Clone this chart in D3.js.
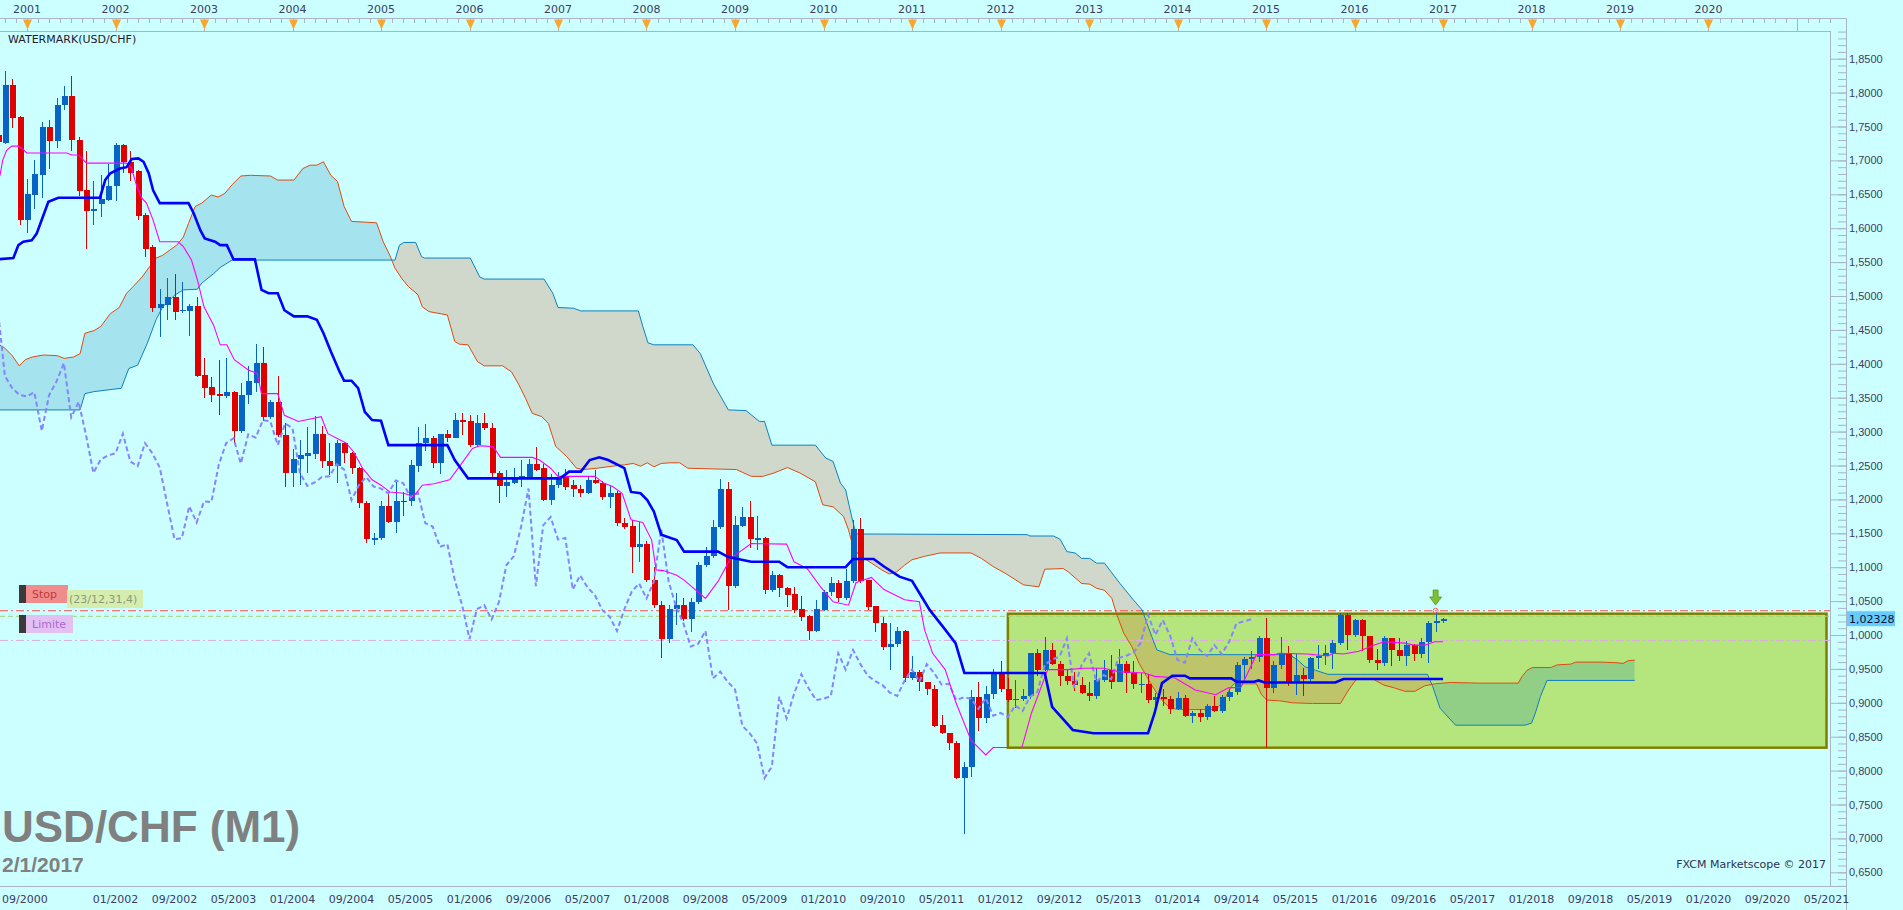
<!DOCTYPE html>
<html>
<head>
<meta charset="utf-8">
<script src="https://cdn.jsdelivr.net/npm/d3@7"></script>
<style>
html, body { margin: 0; padding: 0; background: #ccffff; overflow: hidden; }
svg { display: block; font-family: "DejaVu Sans", Verdana, sans-serif; }
</style>
</head>
<body>
<div id="chart"></div>
<script>
// ---- data: USD/CHF monthly candles, Sep 2000 .. Jan 2017 (month index 0 = Jan 2001)
const firstMonth = -4;
const opens = [
  1.738, 1.726, 1.811, 1.764,
  1.612, 1.649, 1.679, 1.749, 1.728, 1.781, 1.795, 1.730, 1.656, 1.626, 1.636, 1.642,
  1.662, 1.723, 1.698, 1.684, 1.620, 1.573, 1.483, 1.487, 1.498, 1.478, 1.478, 1.485,
  1.383, 1.366, 1.355, 1.352, 1.358, 1.301, 1.354, 1.372, 1.401, 1.321, 1.344, 1.295,
  1.239, 1.259, 1.264, 1.267, 1.297, 1.257, 1.249, 1.283, 1.268, 1.247, 1.194, 1.141,
  1.143, 1.190, 1.166, 1.198, 1.197, 1.249, 1.283, 1.290, 1.253, 1.296, 1.291, 1.317,
  1.316, 1.280, 1.312, 1.305, 1.239, 1.220, 1.224, 1.232, 1.231, 1.252, 1.246, 1.199,
  1.221, 1.233, 1.221, 1.216, 1.209, 1.228, 1.224, 1.203, 1.210, 1.165, 1.161, 1.130,
  1.134, 1.081, 1.044, 0.994, 1.038, 1.044, 1.023, 1.048, 1.103, 1.116, 1.160, 1.216,
  1.072, 1.161, 1.174, 1.141, 1.143, 1.067, 1.088, 1.070, 1.060, 1.038, 1.028, 1.006,
  1.037, 1.063, 1.076, 1.054, 1.079, 1.156, 1.081, 1.043, 1.018, 0.983, 0.987, 1.006,
  0.936, 0.946, 0.931, 0.921, 0.867, 0.855, 0.840, 0.789, 0.806, 0.909, 0.877, 0.913,
  0.942, 0.921, 0.904, 0.906, 0.910, 0.973, 0.949, 0.978, 0.957, 0.940, 0.932, 0.926,
  0.915, 0.910, 0.933, 0.949, 0.931, 0.957, 0.944, 0.927, 0.928, 0.904, 0.908, 0.906,
  0.891, 0.907, 0.881, 0.885, 0.879, 0.896, 0.888, 0.909, 0.916, 0.956, 0.964, 0.968,
  0.995, 0.922, 0.956, 0.973, 0.931, 0.941, 0.935, 0.966, 0.969, 0.974, 0.988, 1.030,
  1.000, 1.022, 0.999, 0.963, 0.959, 0.995, 0.978, 0.969, 0.985, 0.972, 0.990, 1.017,
  1.020
];
const highs = [
  1.745, 1.832, 1.820, 1.766,
  1.673, 1.700, 1.756, 1.760, 1.792, 1.809, 1.825, 1.734, 1.714, 1.670, 1.678, 1.694,
  1.725, 1.724, 1.714, 1.686, 1.622, 1.575, 1.510, 1.526, 1.532, 1.520, 1.488, 1.498,
  1.409, 1.381, 1.406, 1.409, 1.360, 1.371, 1.397, 1.429, 1.425, 1.347, 1.382, 1.312,
  1.275, 1.288, 1.307, 1.323, 1.308, 1.283, 1.288, 1.285, 1.270, 1.248, 1.197, 1.150,
  1.197, 1.211, 1.226, 1.211, 1.258, 1.307, 1.311, 1.293, 1.297, 1.303, 1.328, 1.328,
  1.324, 1.324, 1.327, 1.312, 1.242, 1.243, 1.246, 1.258, 1.260, 1.277, 1.252, 1.238,
  1.240, 1.245, 1.228, 1.221, 1.234, 1.244, 1.227, 1.221, 1.212, 1.172, 1.170, 1.166,
  1.139, 1.100, 1.050, 1.044, 1.062, 1.054, 1.054, 1.108, 1.130, 1.170, 1.230, 1.226,
  1.175, 1.189, 1.197, 1.176, 1.145, 1.095, 1.090, 1.071, 1.071, 1.057, 1.029, 1.052,
  1.066, 1.086, 1.081, 1.097, 1.170, 1.172, 1.081, 1.043, 1.027, 1.017, 1.012, 1.008,
  0.969, 0.949, 0.931, 0.926, 0.882, 0.855, 0.843, 0.812, 0.919, 0.930, 0.925, 0.950,
  0.961, 0.936, 0.934, 0.920, 0.974, 0.980, 0.997, 0.988, 0.962, 0.950, 0.946, 0.938,
  0.930, 0.952, 0.963, 0.970, 0.979, 0.962, 0.962, 0.944, 0.942, 0.915, 0.920, 0.910,
  0.916, 0.911, 0.888, 0.891, 0.898, 0.910, 0.912, 0.920, 0.960, 0.968, 0.976, 0.999,
  1.025, 0.961, 0.997, 0.984, 0.972, 0.951, 0.968, 0.985, 0.985, 0.993, 1.032, 1.032,
  1.024, 1.024, 0.999, 0.979, 0.999, 0.996, 0.995, 0.991, 0.987, 0.996, 1.021, 1.034,
  1.025
];
const lows = [
  1.720, 1.724, 1.748, 1.605,
  1.593, 1.628, 1.645, 1.687, 1.719, 1.775, 1.714, 1.648, 1.570, 1.604, 1.616, 1.640,
  1.640, 1.681, 1.669, 1.612, 1.558, 1.477, 1.439, 1.465, 1.465, 1.475, 1.441, 1.380,
  1.349, 1.343, 1.325, 1.350, 1.283, 1.298, 1.341, 1.359, 1.315, 1.318, 1.292, 1.219,
  1.219, 1.221, 1.239, 1.259, 1.246, 1.236, 1.224, 1.253, 1.238, 1.187, 1.135, 1.133,
  1.140, 1.165, 1.151, 1.175, 1.190, 1.241, 1.272, 1.246, 1.238, 1.284, 1.290, 1.295,
  1.278, 1.278, 1.302, 1.233, 1.194, 1.204, 1.222, 1.218, 1.230, 1.242, 1.198, 1.192,
  1.217, 1.214, 1.204, 1.204, 1.208, 1.222, 1.199, 1.187, 1.161, 1.157, 1.091, 1.107,
  1.078, 1.040, 0.966, 0.988, 1.015, 1.020, 1.004, 1.046, 1.100, 1.113, 1.157, 1.037,
  1.070, 1.160, 1.128, 1.125, 1.061, 1.064, 1.056, 1.041, 1.032, 1.020, 0.993, 1.004,
  1.036, 1.057, 1.049, 1.052, 1.076, 1.076, 1.037, 1.005, 0.978, 0.948, 0.983, 0.930,
  0.934, 0.918, 0.912, 0.864, 0.854, 0.830, 0.787, 0.707, 0.790, 0.858, 0.870, 0.905,
  0.916, 0.901, 0.893, 0.902, 0.905, 0.940, 0.947, 0.956, 0.925, 0.926, 0.918, 0.913,
  0.903, 0.905, 0.930, 0.920, 0.930, 0.915, 0.921, 0.915, 0.900, 0.887, 0.896, 0.883,
  0.889, 0.879, 0.870, 0.871, 0.874, 0.887, 0.885, 0.902, 0.911, 0.935, 0.950, 0.960,
  0.833, 0.915, 0.950, 0.925, 0.912, 0.910, 0.930, 0.950, 0.956, 0.950, 0.985, 0.978,
  0.997, 0.976, 0.958, 0.949, 0.955, 0.955, 0.962, 0.955, 0.962, 0.966, 0.958, 1.004,
  1.018
];
const closes = [
  1.727, 1.811, 1.763, 1.612,
  1.650, 1.680, 1.749, 1.728, 1.782, 1.795, 1.730, 1.655, 1.626, 1.628, 1.643, 1.662,
  1.723, 1.698, 1.682, 1.618, 1.570, 1.483, 1.488, 1.498, 1.477, 1.480, 1.485, 1.382,
  1.364, 1.354, 1.352, 1.358, 1.301, 1.354, 1.374, 1.401, 1.321, 1.344, 1.295, 1.239,
  1.259, 1.265, 1.268, 1.297, 1.256, 1.249, 1.283, 1.268, 1.247, 1.194, 1.141, 1.143,
  1.190, 1.166, 1.197, 1.196, 1.251, 1.283, 1.290, 1.253, 1.296, 1.291, 1.317, 1.315,
  1.280, 1.312, 1.305, 1.239, 1.220, 1.225, 1.233, 1.234, 1.252, 1.244, 1.199, 1.221,
  1.233, 1.219, 1.216, 1.209, 1.228, 1.224, 1.203, 1.210, 1.165, 1.160, 1.130, 1.134,
  1.081, 1.044, 0.994, 1.038, 1.044, 1.023, 1.049, 1.103, 1.116, 1.160, 1.216, 1.072,
  1.162, 1.174, 1.141, 1.143, 1.067, 1.088, 1.070, 1.059, 1.037, 1.027, 1.006, 1.038,
  1.064, 1.076, 1.054, 1.079, 1.156, 1.079, 1.042, 1.017, 0.983, 0.987, 1.006, 0.936,
  0.946, 0.931, 0.920, 0.866, 0.855, 0.840, 0.789, 0.806, 0.909, 0.877, 0.913, 0.942,
  0.921, 0.904, 0.906, 0.910, 0.973, 0.949, 0.978, 0.957, 0.940, 0.932, 0.926, 0.915,
  0.910, 0.933, 0.949, 0.931, 0.957, 0.944, 0.927, 0.928, 0.904, 0.908, 0.906, 0.891,
  0.907, 0.881, 0.885, 0.879, 0.896, 0.888, 0.909, 0.916, 0.956, 0.964, 0.968, 0.995,
  0.922, 0.956, 0.973, 0.931, 0.941, 0.935, 0.966, 0.969, 0.974, 0.988, 1.030, 1.000,
  1.022, 0.999, 0.963, 0.959, 0.995, 0.978, 0.969, 0.985, 0.972, 0.990, 1.017, 1.020,
  1.0233
];

// Chikou span as read (starts Sep 2000, dashed line)
const chikouStart = -4;
const chikou = [
  1.485, 1.382,
  1.364, 1.354, 1.352, 1.358, 1.301, 1.354, 1.374, 1.401, 1.321, 1.344, 1.295, 1.239,
  1.259, 1.265, 1.268, 1.297, 1.256, 1.249, 1.283, 1.268, 1.247, 1.194, 1.141, 1.143,
  1.190, 1.166, 1.197, 1.196, 1.251, 1.283, 1.290, 1.253, 1.296, 1.291, 1.317, 1.315,
  1.280, 1.312, 1.305, 1.239, 1.220, 1.225, 1.233, 1.234, 1.252, 1.244, 1.199, 1.221,
  1.233, 1.219, 1.216, 1.209, 1.228, 1.224, 1.203, 1.210, 1.165, 1.160, 1.130, 1.134,
  1.081, 1.044, 0.994, 1.038, 1.044, 1.023, 1.049, 1.103, 1.116, 1.160, 1.216, 1.072,
  1.162, 1.174, 1.141, 1.143, 1.067, 1.088, 1.070, 1.059, 1.037, 1.027, 1.006, 1.038,
  1.064, 1.076, 1.054, 1.079, 1.156, 1.079, 1.042, 1.017, 0.983, 0.987, 1.006, 0.936,
  0.946, 0.931, 0.920, 0.866, 0.855, 0.840, 0.789, 0.806, 0.909, 0.877, 0.913, 0.942,
  0.921, 0.904, 0.906, 0.910, 0.973, 0.949, 0.978, 0.957, 0.940, 0.932, 0.926, 0.915,
  0.910, 0.933, 0.949, 0.931, 0.957, 0.944, 0.927, 0.928, 0.904, 0.908, 0.906, 0.891,
  0.907, 0.881, 0.885, 0.879, 0.896, 0.888, 0.909, 0.916, 0.956, 0.964, 0.968, 0.995,
  0.922, 0.956, 0.973, 0.931, 0.941, 0.935, 0.966, 0.969, 0.974, 0.988, 1.030, 1.000,
  1.022, 0.999, 0.963, 0.959, 0.995, 0.978, 0.969, 0.985, 0.972, 0.990, 1.017, 1.020,
  1.0233
];

// Tenkan (magenta) [month, price]
const tenkanPts = [
  [-4, 1.672], [-3.66, 1.678], [-3.3, 1.700], [-2.76, 1.715], [-2.08, 1.721], [-1.18, 1.721], [-0.72, 1.718],
  [-0.04, 1.711], [5.38, 1.711], [6.06, 1.708], [6.96, 1.708], [8.09, 1.696], [13.5, 1.696], [14.2, 1.688],
  [14.9, 1.661], [15.6, 1.644], [16.2, 1.637], [17.1, 1.612], [18.0, 1.580], [20.5, 1.580], [21.2, 1.573],
  [22.3, 1.553], [23.1, 1.524], [24.0, 1.484], [25.3, 1.457], [26.2, 1.428], [27.1, 1.428], [28.1, 1.406],
  [30, 1.391], [31.2, 1.386], [31.8, 1.356], [34, 1.356], [34.9, 1.324], [36.8, 1.315], [39.9, 1.322],
  [40.8, 1.297], [42.4, 1.288], [43.3, 1.283], [44.3, 1.270], [45.5, 1.246], [46.8, 1.229], [48, 1.221],
  [49.2, 1.211], [51.1, 1.209], [52.4, 1.204], [53.6, 1.221], [55.2, 1.223], [57.3, 1.229], [58.6, 1.248],
  [60.4, 1.275], [61.4, 1.279], [63.2, 1.278], [64.2, 1.262], [68.5, 1.262], [69.5, 1.258], [71, 1.246],
  [72, 1.234], [77, 1.234], [78.2, 1.224], [79.4, 1.219], [80.7, 1.209], [81.9, 1.170], [83.5, 1.166],
  [84.7, 1.140], [85.3, 1.096], [86.3, 1.095], [88.1, 1.088], [89.1, 1.081], [92, 1.054], [93.7, 1.079],
  [95.4, 1.113], [98.2, 1.135], [103, 1.134], [104, 1.108], [105.8, 1.098], [107.6, 1.071], [109.3, 1.049],
  [111.4, 1.044], [112.4, 1.077], [113.4, 1.081], [114.5, 1.085], [116.2, 1.067], [119, 1.052], [121, 1.049],
  [121.7, 1.008], [122.8, 0.973], [124.5, 0.949], [125.9, 0.902], [128, 0.845], [130, 0.823], [131, 0.834],
  [134.9, 0.834], [136.2, 0.885], [138.4, 0.949], [141.1, 0.949], [143.2, 0.951], [146, 0.951], [148, 0.946],
  [151.5, 0.944], [152.9, 0.939], [155.6, 0.937], [158.4, 0.919], [161.2, 0.912], [162.9, 0.922], [164.6, 0.923],
  [166.7, 0.971], [169.1, 0.971], [169.8, 0.973], [173.6, 0.972], [176.4, 0.969], [177.1, 0.973], [178.5, 0.972],
  [180.6, 0.976], [182.6, 0.985], [184, 0.990], [186.8, 0.988], [188.2, 0.985], [189.5, 0.985], [190.9, 0.990],
  [192, 0.990]
];

// Kijun (thick blue) [month, price]
const kijunPts = [
  [-4, 1.554], [-1.85, 1.556], [-1.17, 1.575], [-0.5, 1.580], [0.63, 1.582], [1.31, 1.592], [1.99, 1.612],
  [2.9, 1.639], [4.25, 1.645], [9.9, 1.645], [10.6, 1.671], [11.3, 1.681], [12.6, 1.688], [13.5, 1.690],
  [14.2, 1.702], [15.1, 1.703], [15.8, 1.698], [16.5, 1.681], [17.1, 1.656], [18.0, 1.637], [21.9, 1.637],
  [22.6, 1.622], [23.5, 1.597], [24.1, 1.585], [25.5, 1.580], [26.2, 1.575], [27.1, 1.575], [28.0, 1.554],
  [30.9, 1.554], [31.8, 1.509], [32.75, 1.504], [34, 1.504], [34.9, 1.479], [36.2, 1.470], [38, 1.470],
  [39.3, 1.465], [40.2, 1.445], [41.2, 1.418], [42.4, 1.388], [43, 1.375], [44, 1.375], [44.9, 1.364],
  [45.8, 1.329], [46.8, 1.317], [48, 1.316], [49, 1.280], [57, 1.280], [58, 1.258], [59.8, 1.231],
  [72.3, 1.231], [73.5, 1.241], [75.1, 1.241], [76.3, 1.258], [77.6, 1.262], [78.8, 1.258], [81, 1.246],
  [81.9, 1.211], [83.2, 1.209], [84.1, 1.199], [85, 1.182], [86, 1.148], [88.1, 1.140], [89.1, 1.123],
  [93.7, 1.123], [95.1, 1.115], [98.2, 1.108], [102, 1.108], [103.1, 1.100], [111, 1.100], [112, 1.112],
  [114.8, 1.112], [116.2, 1.101], [118.3, 1.086], [120, 1.080], [121, 1.062], [122.4, 1.037], [124.5, 1.008],
  [125.9, 0.988], [127.1, 0.944], [138, 0.944], [139, 0.894], [140.4, 0.877], [141.8, 0.860], [144.6, 0.855],
  [152, 0.855], [152.9, 0.885], [153.9, 0.929], [155.3, 0.940], [157, 0.940], [157.7, 0.936], [163.3, 0.936],
  [164, 0.931], [166.4, 0.931], [167, 0.933], [167.8, 0.930], [177.4, 0.930], [178.5, 0.935], [192, 0.935]
];

// Senkou span A (orange-red) [month, price]
const spanAPts = [
  [-4, 1.430], [-3, 1.423], [-2, 1.412], [-1.05, 1.397], [-0.24, 1.406], [0.7, 1.410], [2.25, 1.413],
  [4.1, 1.412], [5.05, 1.408], [6.3, 1.410], [7.2, 1.415], [7.85, 1.445], [9.1, 1.449], [10, 1.455],
  [11.3, 1.474], [12.5, 1.483], [13.5, 1.504], [14.4, 1.514], [15.6, 1.528], [16.6, 1.543], [17.5, 1.556],
  [18.4, 1.560], [19.4, 1.568], [20.3, 1.575], [21.2, 1.587], [21.9, 1.607], [22.8, 1.632], [23.7, 1.637],
  [25, 1.649], [25.9, 1.646], [26.8, 1.651], [27.8, 1.664], [29, 1.677], [30.3, 1.678], [33, 1.677],
  [34, 1.671], [36.2, 1.671], [37.4, 1.688], [38.4, 1.693], [39.3, 1.693], [40.2, 1.698], [41.2, 1.678],
  [42.1, 1.669], [43, 1.632], [44, 1.610], [47.4, 1.608], [48.3, 1.580], [49.2, 1.560], [49.9, 1.541],
  [50.8, 1.526], [51.7, 1.514], [53, 1.502], [53.6, 1.484], [54.5, 1.477], [57, 1.472], [58, 1.433],
  [58.6, 1.429], [59.8, 1.428], [61.1, 1.403], [62, 1.397], [64.5, 1.397], [65.7, 1.388], [66.7, 1.369],
  [67.6, 1.349], [68.5, 1.327], [69.8, 1.322], [70.7, 1.312], [71.7, 1.278], [73.2, 1.263], [74.5, 1.246],
  [75.4, 1.244], [77.3, 1.246], [79.4, 1.249], [81, 1.251], [82.2, 1.253], [83.2, 1.249], [84.1, 1.254],
  [85, 1.248], [86, 1.253], [87.2, 1.254], [88.5, 1.254], [89.6, 1.246], [96.2, 1.244], [98.2, 1.234],
  [99.8, 1.234], [101.3, 1.239], [103.1, 1.247], [104.8, 1.239], [106.9, 1.226], [107.9, 1.192], [109.3, 1.189],
  [110.7, 1.175], [111.4, 1.155], [112, 1.130], [112.8, 1.118], [114.5, 1.106], [115.9, 1.096], [116.9, 1.090],
  [117.9, 1.093], [119, 1.103], [120, 1.111], [121.7, 1.116], [123.8, 1.121], [128, 1.121], [129.4, 1.113],
  [131, 1.101], [132.8, 1.090], [135.1, 1.074], [137.2, 1.071], [138, 1.097], [140.5, 1.098], [141.2, 1.093],
  [143, 1.076], [144.1, 1.075], [145, 1.069], [146.1, 1.066], [147.1, 1.054], [147.7, 1.032], [148.7, 1.003],
  [149.8, 0.983], [150.8, 0.958], [151.8, 0.939], [152.5, 0.926], [153.6, 0.907], [155, 0.892], [156.3, 0.890],
  [161.2, 0.890], [162.2, 0.902], [163.3, 0.924], [164, 0.931], [164.6, 0.928], [166.7, 0.928], [167.4, 0.912],
  [168.1, 0.904], [169.8, 0.903], [171.6, 0.900], [174.3, 0.899], [178.1, 0.899], [179.2, 0.919], [180.2, 0.934],
  [181.2, 0.936], [182.5, 0.935], [184, 0.926], [185.4, 0.922], [186.8, 0.917], [188.2, 0.917], [189.5, 0.925],
  [190.9, 0.928], [193, 0.930], [197, 0.929], [202.2, 0.929], [202.7, 0.9385], [203.4, 0.948], [204.1, 0.952],
  [206.6, 0.952], [207.5, 0.956], [209.3, 0.957], [210, 0.960], [213.6, 0.960], [215.7, 0.959], [216.4, 0.958],
  [217.1, 0.962], [218, 0.963]
];

// Senkou span B (steel blue) [month, price]
const spanBPts = [
  [-4, 1.332], [7.2, 1.332], [7.85, 1.356], [9.1, 1.359], [12.8, 1.364], [13.8, 1.393], [15, 1.398],
  [16.3, 1.430], [17.5, 1.465], [18.4, 1.484], [20, 1.501], [21.2, 1.509], [23.1, 1.510], [23.7, 1.519],
  [25.3, 1.533], [26.2, 1.542], [27.8, 1.553], [49.9, 1.553], [50.5, 1.575], [51.1, 1.579], [52.7, 1.579],
  [53.5, 1.558], [53.9, 1.556], [60.1, 1.556], [61.4, 1.528], [62, 1.525], [70.1, 1.525], [71.3, 1.504],
  [72, 1.483], [74.1, 1.482], [75.1, 1.478], [82.9, 1.478], [83.5, 1.455], [84.2, 1.431], [85, 1.428],
  [90.3, 1.428], [91.3, 1.415], [93.1, 1.370], [95.1, 1.332], [97.5, 1.331], [99.3, 1.315], [100, 1.315],
  [101, 1.280], [106.9, 1.280], [108.3, 1.261], [109.3, 1.256], [110.3, 1.224], [111, 1.214], [111.7, 1.180],
  [112.4, 1.149], [135.6, 1.148], [136, 1.146], [139.2, 1.146], [140.1, 1.141], [141, 1.123], [142.1, 1.121],
  [143, 1.113], [144.1, 1.113], [145, 1.106], [146.1, 1.106], [146.8, 1.096], [148.2, 1.076], [150, 1.052],
  [151.2, 1.037], [152.5, 0.998], [153.2, 0.978], [155, 0.971], [171.2, 0.971], [172.3, 0.963], [173.3, 0.953],
  [174.7, 0.948], [176.4, 0.942], [189.9, 0.942], [190.6, 0.924], [191.6, 0.892], [193.7, 0.867], [203.1, 0.867],
  [204, 0.870], [204.5, 0.884], [205.2, 0.909], [206.1, 0.933], [218, 0.933]
];

// drawn objects
const zoneMonths = [133, 244];
const zonePrices = [0.8338, 1.0314];
const stopLevel = 1.0358;
const entryLevel = 1.0276;
const limitLevel = 0.992;
const lastPrice = 1.02328;
const arrowMonth = 191;

// axes
const priceTicks = [0.65, 0.70, 0.75, 0.80, 0.85, 0.90, 0.95, 1.00, 1.05, 1.10, 1.15, 1.20, 1.25,
  1.30, 1.35, 1.40, 1.45, 1.50, 1.55, 1.60, 1.65, 1.70, 1.75, 1.80, 1.85];
const yearLabels = [2001, 2002, 2003, 2004, 2005, 2006, 2007, 2008, 2009, 2010,
  2011, 2012, 2013, 2014, 2015, 2016, 2017, 2018, 2019, 2020];
const dateLabels = ["09/2000", "01/2002", "09/2002", "05/2003", "01/2004", "09/2004", "05/2005",
  "01/2006", "09/2006", "05/2007", "01/2008", "09/2008", "05/2009", "01/2010", "09/2010", "05/2011",
  "01/2012", "09/2012", "05/2013", "01/2014", "09/2014", "05/2015", "01/2016", "09/2016", "05/2017",
  "01/2018", "09/2018", "05/2019", "01/2020", "09/2020", "05/2021"];

// ---- layout
const W = 1903, H = 910;
const plotRight = 1830, plotTop = 31, plotBottom = 886, axisX = 1846;
const boldFont = '"Liberation Sans", Arial, sans-serif';

const x = d3.scaleLinear().domain([0, 240]).range([27, 1797]);
const y = d3.scaleLinear().domain([0.65, 1.85]).range([872.3, 58.7]);

const svg = d3.select("#chart").append("svg").attr("width", W).attr("height", H);
svg.append("rect").attr("width", W).attr("height", H).attr("fill", "#ccffff");

const defs = svg.append("defs");
defs.append("clipPath").attr("id", "plotClip")
  .append("rect").attr("x", 0).attr("y", plotTop).attr("width", plotRight).attr("height", plotBottom - plotTop);
defs.append("clipPath").attr("id", "aboveB")
  .append("path").attr("d", d3.area().x(d => x(d[0])).y0(0).y1(d => y(d[1]))(spanBPts));
defs.append("clipPath").attr("id", "belowB")
  .append("path").attr("d", d3.area().x(d => x(d[0])).y0(d => y(d[1])).y1(H)(spanBPts));

const line = d3.line().x(d => x(d[0])).y(d => y(d[1]));
const plot = svg.append("g").attr("clip-path", "url(#plotClip)");

// zone fill
const zx0 = x(zoneMonths[0]), zx1 = x(zoneMonths[1]);
const zy0 = y(zonePrices[1]), zy1 = y(zonePrices[0]);
plot.append("rect")
  .attr("x", zx0).attr("y", zy0).attr("width", zx1 - zx0).attr("height", zy1 - zy0)
  .attr("fill", "#b5e57d");

// kumo
const kumo = line(spanAPts) + line(spanBPts.slice().reverse()).replace(/^M/, "L") + "Z";
plot.append("path").attr("d", kumo).attr("fill", "rgba(10,120,170,0.2)").attr("clip-path", "url(#aboveB)");
plot.append("path").attr("d", kumo).attr("fill", "rgba(220,99,51,0.25)").attr("clip-path", "url(#belowB)");

plot.append("rect")
  .attr("x", zx0).attr("y", zy0).attr("width", zx1 - zx0).attr("height", zy1 - zy0)
  .attr("fill", "none").attr("stroke", "#808000").attr("stroke-width", 2.5);

// order levels
plot.append("line").attr("x1", 0).attr("x2", plotRight).attr("y1", y(stopLevel)).attr("y2", y(stopLevel))
  .attr("stroke", "#ff5050").attr("stroke-width", 1).attr("stroke-dasharray", "8,3,2,3");
plot.append("line").attr("x1", 0).attr("x2", plotRight).attr("y1", y(entryLevel)).attr("y2", y(entryLevel))
  .attr("stroke", "#a8d070").attr("stroke-width", 1).attr("stroke-dasharray", "5,3");
plot.append("line").attr("x1", 0).attr("x2", plotRight).attr("y1", y(limitLevel)).attr("y2", y(limitLevel))
  .attr("stroke", "#e0a8e8").attr("stroke-width", 1).attr("stroke-dasharray", "8,3,2,3");

// spans
plot.append("path").attr("d", line(spanAPts)).attr("fill", "none").attr("stroke", "#e04a10").attr("stroke-width", 1);
plot.append("path").attr("d", line(spanBPts)).attr("fill", "none").attr("stroke", "#1080c0").attr("stroke-width", 1);

// candles
const candles = opens.map((o, i) => ({ m: firstMonth + i, o, h: highs[i], l: lows[i], c: closes[i] }));
const cg = plot.append("g").attr("shape-rendering", "crispEdges");
cg.selectAll("line").data(candles).join("line")
  .attr("x1", d => Math.round(x(d.m)) + 0.5).attr("x2", d => Math.round(x(d.m)) + 0.5)
  .attr("y1", d => y(d.h)).attr("y2", d => y(d.l))
  .attr("stroke", d => d.c >= d.o ? "#0764c4" : "#e00000").attr("stroke-width", 1);
cg.selectAll("rect").data(candles).join("rect")
  .attr("x", d => Math.round(x(d.m)) - 2)
  .attr("width", 6)
  .attr("y", d => y(Math.max(d.o, d.c)))
  .attr("height", d => Math.max(1.5, Math.abs(y(d.o) - y(d.c))))
  .attr("fill", d => d.c >= d.o ? "#0764c4" : "#e00000");

// chikou, tenkan, kijun
const chikouPts = chikou.map((v, i) => [chikouStart + i, v]);
plot.append("path").attr("d", line(chikouPts)).attr("fill", "none")
  .attr("stroke", "#8585ff").attr("stroke-width", 2).attr("stroke-dasharray", "5,3");
plot.append("path").attr("d", line(tenkanPts)).attr("fill", "none").attr("stroke", "#ff00ff").attr("stroke-width", 1.1);
plot.append("path").attr("d", line(kijunPts)).attr("fill", "none").attr("stroke", "#0000ff").attr("stroke-width", 2.6);

// arrow + stop marker on last bars
const ax = x(arrowMonth);
plot.append("circle").attr("cx", ax).attr("cy", y(stopLevel)).attr("r", 2.5)
  .attr("fill", "none").attr("stroke", "#ff6060").attr("stroke-width", 1);
plot.append("path")
  .attr("d", `M${ax - 2.5},590 L${ax + 2.5},590 L${ax + 2.5},597 L${ax + 6},597 L${ax},605 L${ax - 6},597 L${ax - 2.5},597 Z`)
  .attr("fill", "#80c030").attr("stroke", "#4f8f18").attr("stroke-width", 0.7);

// ---- frame / rulers
const frameColor = "#aab4c6";
svg.append("line").attr("x1", 0).attr("x2", axisX).attr("y1", 18.5).attr("y2", 18.5).attr("stroke", frameColor);
svg.append("line").attr("x1", 0).attr("x2", plotRight).attr("y1", plotTop + 0.5).attr("y2", plotTop + 0.5).attr("stroke", frameColor);
svg.append("line").attr("x1", plotRight + 0.5).attr("x2", plotRight + 0.5).attr("y1", plotTop).attr("y2", plotBottom).attr("stroke", frameColor);
svg.append("line").attr("x1", axisX + 0.5).attr("x2", axisX + 0.5).attr("y1", 18.5).attr("y2", H).attr("stroke", frameColor);
svg.append("line").attr("x1", 0).attr("x2", axisX).attr("y1", plotBottom + 0.5).attr("y2", plotBottom + 0.5).attr("stroke", frameColor);

// top ruler ticks every 1.5 months
const rulerTicks = d3.range(-6, 246, 1.5);
svg.append("g").selectAll("line").data(rulerTicks).join("line")
  .attr("x1", d => Math.round(x(d)) + 0.5).attr("x2", d => Math.round(x(d)) + 0.5)
  .attr("y1", 18.5).attr("y2", d => (d % 12 === 0) ? plotTop : 23)
  .attr("stroke", frameColor);

// year markers
const yearG = svg.append("g");
yearG.selectAll("path").data(yearLabels).join("path")
  .attr("d", d => { const px = Math.round(x((d - 2001) * 12)) + 0.5; return `M${px - 4.5},19.5 L${px + 4.5},19.5 L${px},29.5 Z`; })
  .attr("fill", "#f7a630");
yearG.selectAll("text").data(yearLabels).join("text")
  .attr("x", d => x((d - 2001) * 12)).attr("y", 13)
  .attr("text-anchor", "middle").attr("font-size", 11).attr("fill", "#3c3c64")
  .text(d => d);

// right price axis
const fmt = d => d3.format(".4f")(d).replace(".", ",");
const minorTicks = y.copy().domain([0.63, 1.89]).ticks(126);
const yAxisG = svg.append("g").attr("transform", `translate(${axisX},0)`);
yAxisG.append("g").call(d3.axisLeft(y).tickValues(minorTicks).tickSize(8).tickFormat(""))
  .call(g => g.select(".domain").remove())
  .call(g => g.selectAll("line").attr("stroke", frameColor));
yAxisG.append("g").call(d3.axisLeft(y).tickValues(priceTicks).tickSize(15).tickFormat(""))
  .call(g => g.select(".domain").remove())
  .call(g => g.selectAll("line").attr("stroke", frameColor));
yAxisG.append("g").call(d3.axisRight(y).tickValues(priceTicks).tickSize(0).tickPadding(3).tickFormat(fmt))
  .call(g => g.select(".domain").remove())
  .call(g => g.selectAll("text").attr("font-size", 11).attr("fill", "#3c3c64").attr("font-family", null));

// last price tag
svg.append("rect").attr("x", axisX + 1).attr("y", y(lastPrice) - 8).attr("width", 48).attr("height", 15).attr("fill", "#66ccff");
svg.append("text").attr("x", axisX + 3).attr("y", y(lastPrice) + 4).attr("font-size", 11).attr("fill", "#101030")
  .text(d3.format(".5f")(lastPrice).replace(".", ","));

// bottom date labels
const dateMonth = s => (+s.slice(3) - 2001) * 12 + (+s.slice(0, 2) - 1);
svg.append("g").selectAll("text").data(dateLabels).join("text")
  .attr("x", d => Math.max(2, x(dateMonth(d)))).attr("y", 903)
  .attr("text-anchor", (d, i) => i === 0 ? "start" : "middle")
  .attr("font-size", 11).attr("fill", "#3c3c64")
  .text(d => d);

// texts
svg.append("text").attr("x", 8).attr("y", 43).attr("font-size", 11).attr("fill", "#202030").text("WATERMARK(USD/CHF)");
svg.append("text").attr("x", 2).attr("y", 842).attr("font-size", 44).attr("font-weight", "bold")
  .style("font-family", boldFont).attr("fill", "#808080").text("USD/CHF (M1)");
svg.append("text").attr("x", 2).attr("y", 872).attr("font-size", 21).attr("font-weight", "bold")
  .style("font-family", boldFont).attr("fill", "#808080").text("2/1/2017");
svg.append("text").attr("x", 1826).attr("y", 868).attr("text-anchor", "end").attr("font-size", 11)
  .attr("fill", "#303050").text("FXCM Marketscope © 2017");

// order labels
const lab = svg.append("g");
lab.append("rect").attr("x", 19).attr("y", 585).attr("width", 7).attr("height", 18).attr("fill", "#3a3a3a");
lab.append("rect").attr("x", 26).attr("y", 585).attr("width", 42).attr("height", 18).attr("fill", "#f08c8c");
lab.append("text").attr("x", 32).attr("y", 598).attr("font-size", 11).attr("fill", "#c03a3a").text("Stop");
lab.append("rect").attr("x", 67).attr("y", 590).attr("width", 76).attr("height", 18).attr("fill", "#d6edb0");
lab.append("text").attr("x", 69).attr("y", 603).attr("font-size", 11).attr("fill", "#8a9a78").text("(23/12,31,4)");
lab.append("rect").attr("x", 19).attr("y", 615).attr("width", 7).attr("height", 18).attr("fill", "#3a3a3a");
lab.append("rect").attr("x", 26).attr("y", 615).attr("width", 47).attr("height", 18).attr("fill", "#e4c0f2");
lab.append("text").attr("x", 32).attr("y", 628).attr("font-size", 11).attr("fill", "#a868d0").text("Limite");
</script>
</body>
</html>
